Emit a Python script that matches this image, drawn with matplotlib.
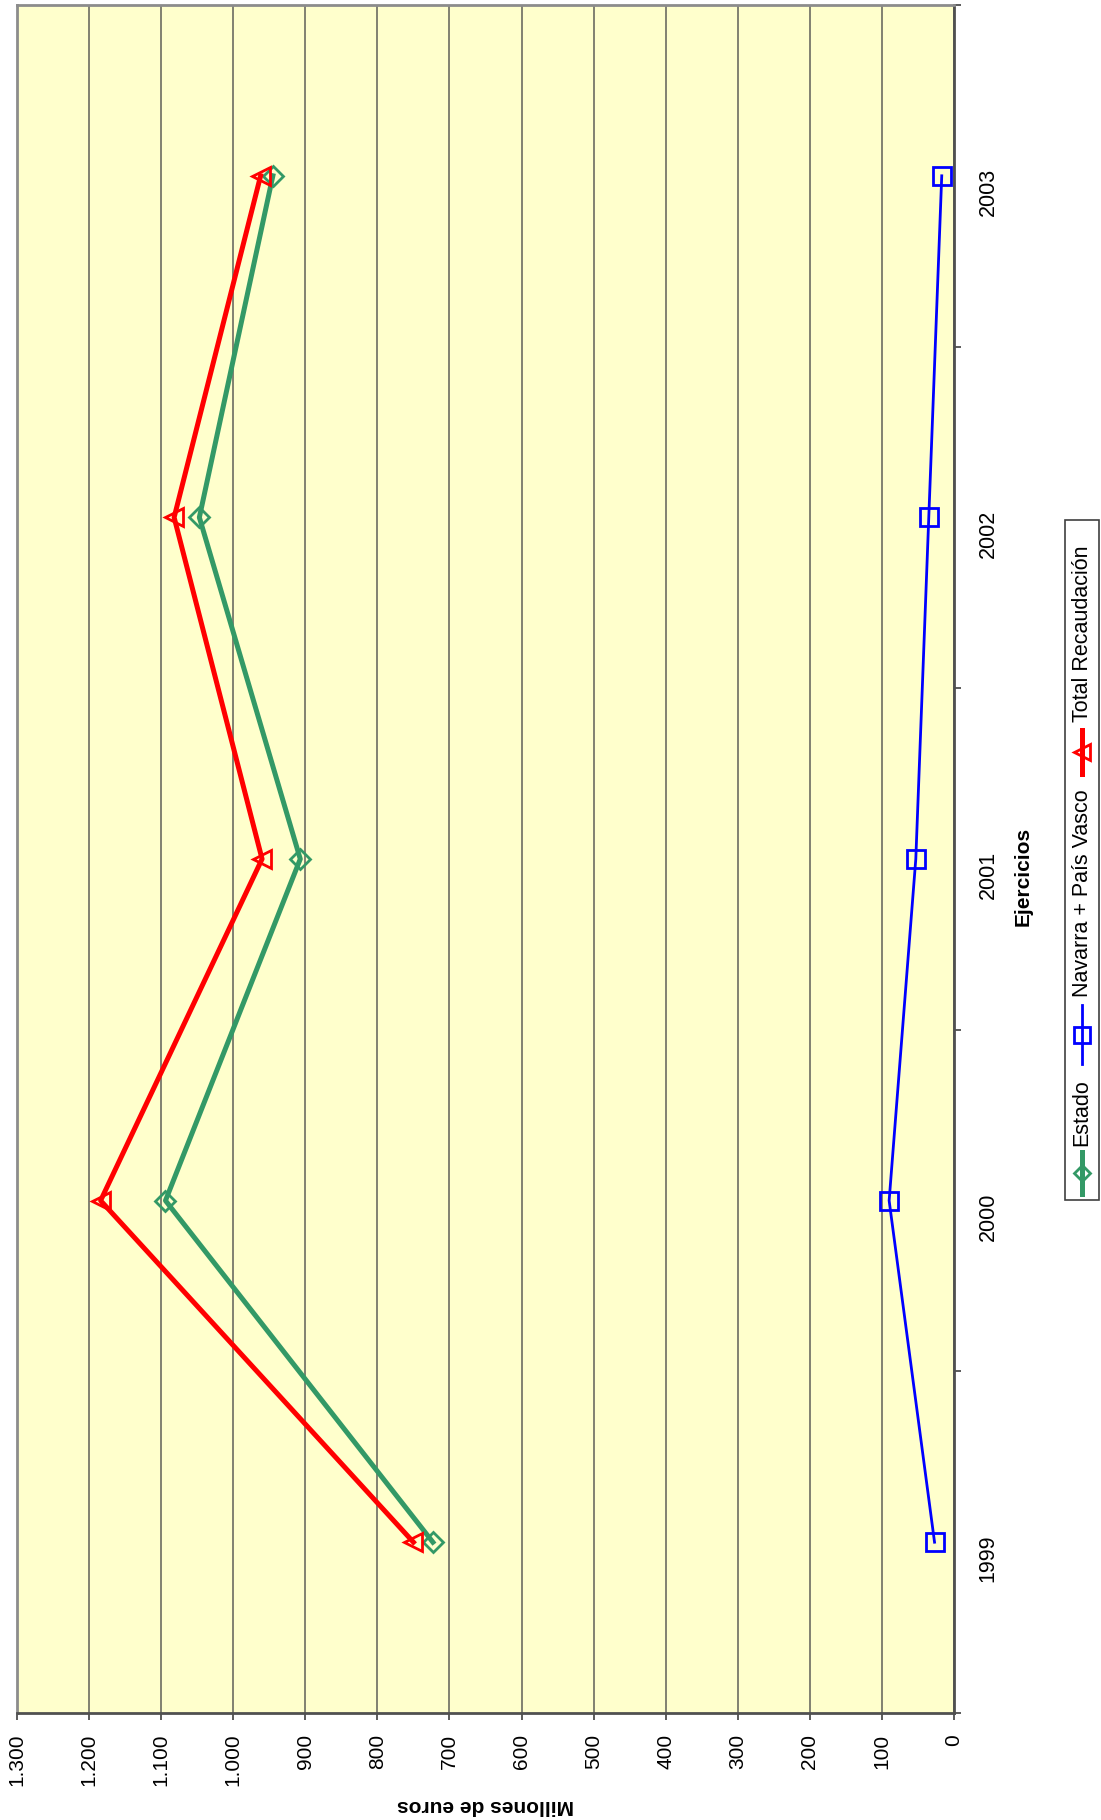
import matplotlib
matplotlib.use('Agg')
import matplotlib.pyplot as plt
from matplotlib.lines import Line2D
from matplotlib.patches import Rectangle

plt.rcParams['font.family'] = ['Liberation Sans', 'DejaVu Sans']

# datos (millones de euros)
ejercicios = ['1999', '2000', '2001', '2002', '2003']
estado = [723, 1094, 907, 1047, 945]
navarra_pv = [27, 90, 53, 35, 17]
total = [750, 1184, 960, 1082, 962]
valores_ticks = list(range(0, 1400, 100))

W, H = 1101, 1820
fig = plt.figure(figsize=(W / 100, H / 100), dpi=100)

# grafico girado: valores en horizontal (0 a la derecha), ejercicios en vertical
ax = fig.add_axes([17 / W, 1 - 1713 / H, (954 - 17) / W, (1713 - 5) / H])
ax.set_facecolor('#FFFFCC')

pos = list(range(len(ejercicios)))
ax.plot(estado, pos, color='#339966', lw=3.6, marker='D', ms=10, mfc='none',
        mec='#339966', mew=2, label='Estado', zorder=3)
ax.plot(navarra_pv, pos, color='#0000FF', lw=2, marker='s', ms=13, mfc='none',
        mec='#0000FF', mew=2, label='Navarra + País Vasco', zorder=3)
ax.plot(total, pos, color='#FF0000', lw=3.6, marker='<', ms=13, mfc='none',
        mec='#FF0000', mew=2, label='Total Recaudación', zorder=4)

ax.set_xlim(1300, 0)
ax.set_ylim(-0.5, len(ejercicios) - 0.5)

ax.set_xticks(valores_ticks)
ax.set_xticklabels(['{:,}'.format(v).replace(',', '.') for v in valores_ticks])
ax.tick_params(axis='x', labelsize=15, labelrotation=90, length=5, width=1.2,
               color='#404040', pad=10)
ax.grid(axis='x', color='#77776a', lw=1.3, zorder=1)
ax.set_axisbelow(True)

ax.set_yticks([p - 0.5 for p in pos] + [len(pos) - 0.5])
ax.set_yticklabels([])
ax.set_yticks(pos, minor=True)
ax.set_yticklabels(ejercicios, minor=True)
ax.tick_params(axis='y', which='both', left=False, right=True,
               labelleft=False, labelright=True)
ax.tick_params(axis='y', which='major', length=5, width=1.2, color='#404040')
ax.tick_params(axis='y', which='minor', length=0, labelsize=15.5,
               labelrotation=90, pad=17)

for s in ['top', 'left']:
    ax.spines[s].set_color('#8c8c8c')
    ax.spines[s].set_linewidth(2)
for s in ['bottom', 'right']:
    ax.spines[s].set_color('#505050')
    ax.spines[s].set_linewidth(2)

ax.set_xlabel('Millones de euros', fontsize=15, fontweight='bold', rotation=180)
ax.xaxis.set_label_coords(0.5, (1713 - 1806) / 1708)
ax.xaxis.label.set(ha='center', va='center')
ax.yaxis.set_label_position('right')
ax.set_ylabel('Ejercicios', fontsize=15, fontweight='bold', rotation=90)
ax.yaxis.set_label_coords((1023 - 17) / 937, (1713 - 876) / 1708)
ax.yaxis.label.set(ha='center', va='center')

# leyenda (girada, dibujada a mano)
def fx(px):
    return px / W

def fy(py):
    return 1 - py / H

fig.add_artist(Rectangle((fx(1065), fy(1200)), fx(1099) - fx(1065), fy(520) - fy(1200),
                         transform=fig.transFigure, fill=False, ec='#404040', lw=1.2))
# nombre, color, grosor, marcador, tamano, inicio linea, fin linea, inicio texto
entradas = [
    ('Estado', '#339966', 3.6, 'D', 8, 1194, 1152, 1146),
    ('Navarra + País Vasco', '#0000FF', 2, 's', 11, 1064, 1005, 997),
    ('Total Recaudación', '#FF0000', 3.6, '<', 11, 774, 730, 722),
]
for nombre, color, lw, mk, ms, y0, y1, yt in entradas:
    fig.add_artist(Line2D([fx(1082), fx(1082)], [fy(y0), fy(y1)],
                          transform=fig.transFigure, color=color, lw=lw))
    fig.add_artist(Line2D([fx(1082)], [fy((y0 + y1) / 2)], transform=fig.transFigure,
                          marker=mk, ms=ms, mfc='none', mec=color, mew=2, lw=0))
    fig.text(fx(1082), fy(yt), nombre, rotation=90, ha='center', va='bottom',
             fontsize=15.5)

fig.savefig('out.png', dpi=100, facecolor='white')
